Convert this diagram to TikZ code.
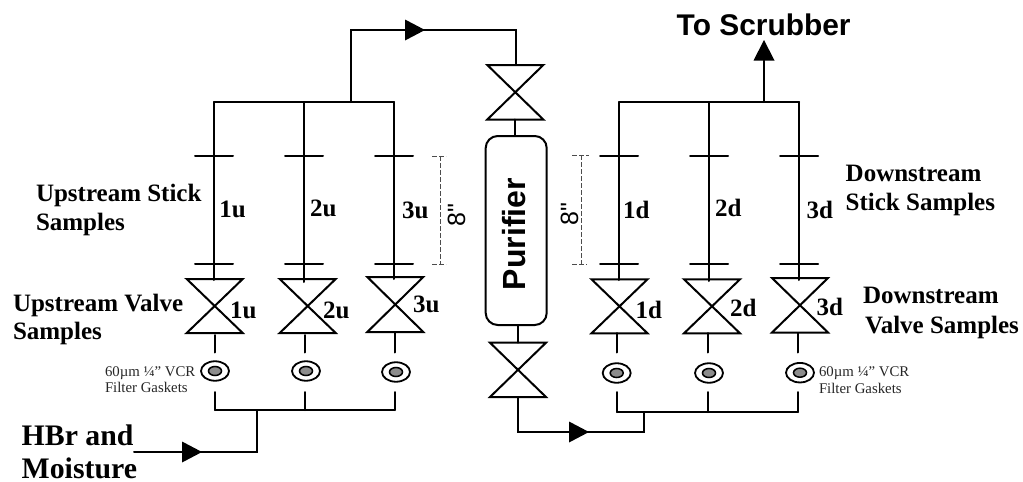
\documentclass[tikz,border=0pt]{standalone}
\usepackage{fontspec}
\setmainfont{Liberation Serif}
\setsansfont{Liberation Sans}
\newfontfamily\eightfont{Liberation Sans}
\usetikzlibrary{shapes.geometric,calc}
\tikzset{
  pipe/.style={line width=2pt,line cap=round,line join=miter},
  txt/.style={anchor=base west,inner sep=0pt,outer sep=0pt,align=left},
  lab/.style={txt,font=\fontsize{25}{28}\selectfont\bfseries},
  num/.style={txt,font=\fontsize{25}{28}\selectfont\bfseries},
  big/.style={txt,font=\fontsize{29.8}{34}\selectfont\bfseries},
  sans/.style={txt,font=\fontsize{29.9}{34}\selectfont\sffamily\bfseries},
  small/.style={txt,font=\fontsize{14.8}{17}\selectfont,text=black!85},
  eight/.style={txt,rotate=90,font=\fontsize{25}{28}\selectfont\eightfont},
  gasketout/.style={ellipse,draw,line width=1.8pt,fill=white,minimum width=28pt,minimum height=19.5pt,inner sep=0pt},
  gasketin/.style={ellipse,draw,line width=1.5pt,fill=black!45,minimum width=13pt,minimum height=9pt,inner sep=0pt},
  measure/.style={line width=1pt,draw=black!70,dash pattern=on 4.5pt off 2.5pt},
  vessel/.style={draw,line width=2pt,rounded corners=12pt,minimum width=61pt,minimum height=189pt,inner sep=0pt,fill=white}
}
% bowtie valve: name, centre x, top y, bottom y
\newcommand{\vlv}[4]{%
  \coordinate (#1t) at (#2,#3);
  \coordinate (#1b) at (#2,#4);
  \draw[pipe] ($(#1t)+(-28,0)$) -- ($(#1t)+(28,0)$) -- ($(#1b)+(-28,0)$) -- ($(#1b)+(28,0)$) -- cycle;
}
% filled arrow head: base centre name, pointing right
\newcommand{\headr}[1]{\fill (#1) ++(0,-10.5) -- ++(20,10.5) -- ++(-20,10.5) -- cycle;}
% one sample leg: name, pipe x, end y
\newcommand{\leg}[3]{%
  \coordinate (#1s) at (#2,102);
  \coordinate (#1e) at (#2,#3);
  \coordinate (#1u) at (#2,156);
  \coordinate (#1l) at (#2,264);
  \draw[pipe] (#1s) -- (#1e);
  \draw[pipe] ($(#1u)+(-19,0)$) -- ($(#1u)+(19,0)$);
  \draw[pipe] ($(#1l)+(-19,0)$) -- ($(#1l)+(19,0)$);
}
% gasket with stems: name, x, gasket y, stem top y, manifold y, stem x
\newcommand{\gsk}[6]{%
  \node[gasketout] (#1o) at (#2,#3) {};
  \node[gasketin] (#1i) at (#2,#3) {};
  \coordinate (#1a) at (#6,#4);
  \coordinate (#1c) at (#6,352.5);
  \coordinate (#1d) at (#6,392);
  \coordinate (#1m) at (#6,#5);
  \draw[pipe] (#1a) -- (#1c);
  \draw[pipe] (#1d) -- (#1m);
}
\begin{document}
\begin{tikzpicture}[x=1pt,y=-1pt]
\useasboundingbox (0,0) rectangle (1023,482);
% upstream legs
\leg{a}{214}{280}
\leg{b}{304}{282}
\leg{c}{394}{279}
\draw[pipe] (as) -- (cs);
% downstream legs
\leg{d}{619}{280}
\leg{e}{709}{281}
\leg{f}{799}{280}
\draw[pipe] (ds) -- (fs);
% valves
\vlv{va}{214.7}{279}{333}
\vlv{vb}{307.7}{279}{333}
\vlv{vc}{395.3}{277}{332}
\vlv{vd}{619.5}{279.3}{333.3}
\vlv{ve}{712}{279.3}{333.3}
\vlv{vf}{800}{278}{332.5}
\vlv{vt}{515.3}{65}{119.5}
\vlv{vp}{518}{342.7}{397}
% gaskets
\gsk{ga}{215}{371}{335}{410}{215}
\gsk{gb}{306}{371}{335}{410}{305}
\gsk{gc}{396}{372}{333}{410}{395}
\gsk{gd}{616.7}{373}{333}{412}{617}
\gsk{ge}{709}{373}{333}{412}{708}
\gsk{gf}{800}{372.7}{333}{412}{798}
\draw[pipe] (gam) -- (gcm);
\draw[pipe] (gdm) -- (gfm);
% purifier
\node[vessel] (pur) at (516.2,230.5) {};
\node[txt,rotate=90,font=\fontsize{32}{36}\selectfont\sffamily\bfseries] (purl) at (525,290) {Purifier};
\draw[pipe] (vtb) -- (pur.north -| vtb);
\draw[pipe] (pur.south -| vpt) -- (vpt);
% top run
\coordinate (j1) at (351,102);
\coordinate (j2) at (351,30);
\coordinate (j3) at (516,30);
\coordinate (j4) at (516,65);
\coordinate (h1) at (405,30);
\draw[pipe] (j1) -- (j2) -- (j3) -- (j4);
\headr{h1}
% bottom run
\coordinate (k1) at (518,432);
\coordinate (k2) at (644,432);
\coordinate (k3) at (644,412);
\coordinate (h2) at (569,432);
\draw[pipe] (vpb) -- (k1) -- (k2) -- (k3);
\headr{h2}
% inlet
\coordinate (i1) at (257,410);
\coordinate (i2) at (257,452);
\coordinate (i3) at (134,452);
\coordinate (h3) at (182,452);
\draw[pipe] (i1) -- (i2) -- (i3);
\headr{h3}
% outlet
\coordinate (o1) at (764,102);
\coordinate (o2) at (764,60.5);
\draw[pipe] (o1) -- (o2);
\fill (o2) ++(-10.5,0) -- ++(10.5,-20.5) -- ++(10.5,20.5) -- cycle;
% 8 inch brackets
\coordinate (m1) at (440,156);
\coordinate (m2) at (440,264);
\coordinate (m3) at (581,155);
\coordinate (m4) at (581,264);
\draw[measure] (m1) -- (m2);
\draw[measure] ($(m1)+(-8,0)$) -- ($(m1)+(6,0)$);
\draw[measure] ($(m2)+(-8,0)$) -- ($(m2)+(6,0)$);
\draw[measure] (m3) -- (m4);
\draw[measure] ($(m3)+(-9,0)$) -- ($(m3)+(8,0)$);
\draw[measure] ($(m4)+(-9,0)$) -- ($(m4)+(6,0)$);
\node[eight] (e1) at (465,226) {8"};
\node[eight] (e2) at (578,225) {8"};
% labels
\node[sans] (ts) at (676.7,35) {To Scrubber};
\node[lab] (l1) at (36,201) {Upstream Stick};
\node[lab] (l2) at (36,230) {Samples};
\node[lab] (l3) at (13,311) {Upstream Valve};
\node[lab] (l4) at (13,339) {Samples};
\node[lab] (l5) at (845.7,181.7) {Downstream};
\node[lab] (l6) at (845.7,210.7) {Stick Samples};
\node[lab] (l7) at (863,303) {Downstream};
\node[lab] (l8) at (865,333) {Valve Samples};
\node[big] (l9) at (21.7,445) {HBr and};
\node[big] (l10) at (21.7,478) {Moisture};
% numbers
\node[num] (n1) at (219.3,217.7) {1u};
\node[num] (n2) at (310,216) {2u};
\node[num] (n3) at (402,218) {3u};
\node[num] (n4) at (230,318) {1u};
\node[num] (n5) at (323,318) {2u};
\node[num] (n6) at (413,312.7) {3u};
\node[num] (n7) at (623,218) {1d};
\node[num] (n8) at (715,216) {2d};
\node[num] (n9) at (806.7,218) {3d};
\node[num] (n10) at (635.7,318) {1d};
\node[num] (n11) at (730,316.7) {2d};
\node[num] (n12) at (816.7,315) {3d};
% small
\node[small] (s1) at (105,376) {60µm ¼” VCR};
\node[small] (s2) at (105,392.7) {Filter Gaskets};
\node[small] (s3) at (819,376) {60µm ¼” VCR};
\node[small] (s4) at (819,393) {Filter Gaskets};
\end{tikzpicture}
\end{document}
